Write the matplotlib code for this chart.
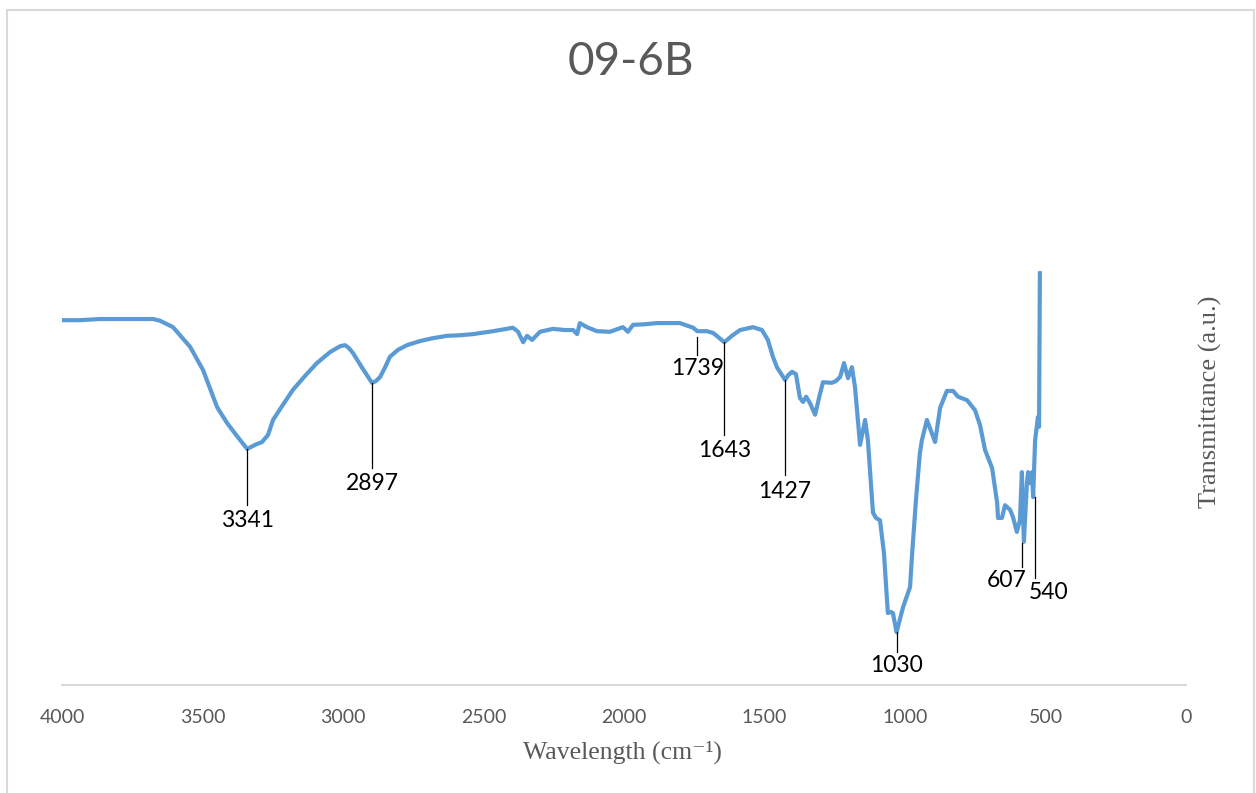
import matplotlib
matplotlib.use('Agg')
import matplotlib.pyplot as plt

# FTIR spectrum of sample 09-6B
wavenumber = [4000, 3936, 3865, 3794, 3722, 3676, 3651, 3605, 3544, 3498,
              3448, 3413, 3377, 3341, 3313, 3288, 3267, 3249, 3214, 3178,
              3135, 3093, 3046, 3011, 2993, 2979, 2964, 2932, 2897, 2883,
              2868, 2851, 2833, 2804, 2772, 2726, 2680, 2630, 2584, 2537,
              2466, 2395, 2377, 2359, 2345, 2327, 2299, 2253, 2210, 2181,
              2167, 2157, 2132, 2096, 2050, 2004, 1986, 1968, 1925, 1883,
              1836, 1801, 1754, 1739, 1705, 1683, 1665, 1643, 1616, 1587,
              1541, 1509, 1488, 1470, 1456, 1427, 1416, 1402, 1388, 1374,
              1363, 1352, 1338, 1320, 1306, 1292, 1260, 1246, 1231, 1217,
              1203, 1189, 1178, 1160, 1142, 1132, 1114, 1103, 1089, 1075,
              1061, 1050, 1043, 1030, 1007, 982, 975, 961, 947, 940,
              922, 893, 875, 851, 829, 811, 779, 751, 733, 715,
              690, 672, 669, 655, 644, 626, 616, 602, 591, 584,
              577, 566, 562, 555, 548, 544, 537, 534, 527, 523,
              520]
transmittance = [62.9, 62.9, 63.1, 63.1, 63.1, 63.1, 62.8, 61.7, 58.3, 54.3,
                 47.9, 45.2, 42.9, 40.7, 41.4, 41.9, 43.1, 45.7, 48.3, 50.9,
                 53.3, 55.5, 57.4, 58.4, 58.6, 58.1, 57.2, 54.7, 52.1, 52.4,
                 53.1, 54.7, 56.6, 57.8, 58.6, 59.3, 59.8, 60.2, 60.3, 60.5,
                 61.0, 61.6, 60.9, 59.1, 60.2, 59.5, 60.9, 61.4, 61.2, 61.2,
                 60.5, 62.4, 61.7, 61.0, 60.9, 61.7, 60.9, 62.1, 62.2, 62.4,
                 62.4, 62.4, 61.6, 61.0, 61.0, 60.7, 60.0, 59.1, 60.2, 61.2,
                 61.7, 61.2, 59.5, 56.6, 54.8, 52.6, 53.4, 54.0, 53.6, 49.5,
                 48.8, 49.7, 48.6, 46.6, 49.5, 52.2, 52.1, 52.4, 53.1, 55.5,
                 52.9, 54.8, 51.4, 41.4, 45.7, 42.2, 29.7, 28.8, 28.4, 22.8,
                 12.4, 12.6, 12.4, 9.1, 13.4, 16.9, 22.4, 31.9, 40.0, 42.2,
                 45.7, 41.9, 47.8, 50.7, 50.7, 49.7, 49.1, 47.4, 44.8, 40.5,
                 37.4, 31.4, 28.8, 28.8, 31.0, 30.2, 29.0, 26.4, 28.4, 36.7,
                 24.7, 34.8, 36.7, 34.8, 36.7, 32.4, 42.2, 43.4, 46.2, 44.5,
                 71.0]

# peak labels: text, x of the marker line, line top/bottom, label centre height
peak_text = ['3341', '2897', '1739', '1643', '1427', '1030', '607', '540']
peak_x = [3341, 2897, 1739, 1643, 1427, 1030, 584, 538]
peak_top = [40.7, 52.1, 60.0, 59.1, 52.6, 9.1, 24.5, 32.4]
peak_bottom = [31.0, 37.4, 56.9, 43.1, 36.2, 5.7, 20.3, 18.5]
label_y = [28.3, 34.8, 54.5, 40.5, 33.4, 3.4, 18.1, 16.0]

sans = ['Lato', 'DejaVu Sans']
serif = ['Liberation Serif', 'DejaVu Serif']
grey = '#595959'

fig = plt.figure(figsize=(12.56, 7.93), dpi=100)
ax = fig.add_axes([62 / 1256, 1 - 685 / 793, (1186 - 62) / 1256, 580 / 793])

ax.plot(wavenumber, transmittance, color='#5b9bd5', linewidth=3.0, solid_joinstyle='round')

for txt, px, top, bot, ly in zip(peak_text, peak_x, peak_top, peak_bottom, label_y):
    ax.plot([px, px], [top, bot], color='black', linewidth=0.9)
    if txt == '607':
        ax.annotate(txt, (px, ly), xytext=(3, 0), textcoords='offset points',
                    ha='right', va='center', fontsize=16.5, family=sans)
    elif txt == '540':
        ax.annotate(txt, (px, ly), xytext=(-4, 0), textcoords='offset points',
                    ha='left', va='center', fontsize=16.5, family=sans)
    else:
        ax.text(px, ly, txt, ha='center', va='center', fontsize=16.5, family=sans)

ax.set_xlim(4000, 0)
ax.set_ylim(0, 100)
ax.set_xticks(range(4000, -1, -500))
ax.set_yticks([])
for s in ['top', 'left', 'right']:
    ax.spines[s].set_visible(False)
ax.spines['bottom'].set_color('#d9d9d9')
ax.spines['bottom'].set_linewidth(1.5)
ax.tick_params(axis='x', length=0, pad=17, labelsize=14, labelcolor=grey)
for lab in ax.get_xticklabels():
    lab.set_family(sans)

fig.text(0.502, 1 - 62 / 793, '09-6B', ha='center', va='center', fontsize=33, color=grey, family=sans)
fig.text(622 / 1256, 1 - 752 / 793, 'Wavelength (cm⁻¹)', ha='center', va='center',
         fontsize=18.5, color=grey, family=serif)
fig.text(1210 / 1256, 1 - 402 / 793, 'Transmittance (a.u.)', ha='center', va='center',
         rotation=90, fontsize=19, color=grey, family=serif)

# light chart border like the spreadsheet export
fig.patches.append(plt.Rectangle((7 / 1256, -0.01), (1254 - 7) / 1256, 1 - 10 / 793 + 0.01,
                                 transform=fig.transFigure, fill=False,
                                 edgecolor='#d9d9d9', linewidth=1.5))

fig.savefig('out.png', dpi=100)
